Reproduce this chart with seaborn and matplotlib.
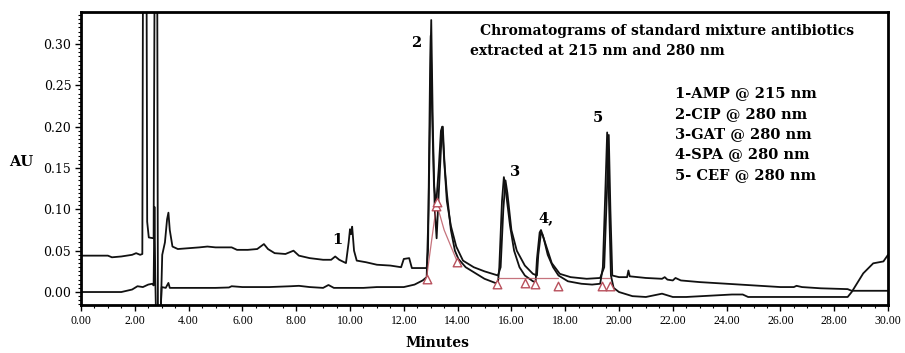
import numpy as np
import pandas as pd
import matplotlib
matplotlib.use("Agg")
import matplotlib.pyplot as plt
import seaborn as sns
from matplotlib.ticker import MultipleLocator

# trace at 215 nm (upper) - minutes / AU
t_215 = [0.0, 1.0, 1.15, 1.5, 1.9, 2.05, 2.2, 2.28, 2.32, 2.42, 2.46, 2.52, 2.7, 2.76, 2.82, 2.86,
         2.96, 3.02, 3.12, 3.2, 3.25, 3.3, 3.4, 3.6, 4.0, 4.4, 4.7, 5.0, 5.6, 5.8, 6.2, 6.55, 6.8,
         6.95, 7.2, 7.6, 7.9, 8.1, 8.5, 9.0, 9.3, 9.45, 9.6, 9.85, 9.95, 10.0, 10.04, 10.08, 10.15,
         10.25, 10.6, 11.0, 11.5, 11.9, 12.0, 12.2, 12.3, 12.85, 12.9, 12.97, 13.02, 13.08, 13.15,
         13.22, 13.3, 13.4, 13.45, 13.52, 13.6, 13.75, 13.95, 14.2, 14.6, 15.0, 15.5, 15.6, 15.7,
         15.78, 15.85, 16.0, 16.2, 16.5, 16.8, 16.95, 17.0, 17.1, 17.15, 17.3, 17.5, 17.8, 18.2,
         18.8, 19.3, 19.45, 19.55, 19.62, 19.68, 19.75, 20.0, 20.3, 20.35, 20.4, 21.0, 21.6, 21.7,
         21.8, 22.0, 22.1, 22.3, 23.0, 24.0, 25.0, 26.0, 26.5, 26.6, 26.8, 27.5, 28.5, 28.65, 30.0]
au_215 = [0.044, 0.044, 0.042, 0.043, 0.045, 0.047, 0.045, 0.046, 0.6, 0.6, 0.085, 0.066, 0.065,
          0.6, 0.6, -0.03, -0.03, 0.045, 0.06, 0.088, 0.096, 0.075, 0.055, 0.052, 0.053, 0.054,
          0.055, 0.054, 0.054, 0.051, 0.051, 0.052, 0.058, 0.052, 0.047, 0.046, 0.050, 0.044,
          0.041, 0.039, 0.039, 0.043, 0.039, 0.035, 0.06, 0.076, 0.07, 0.079, 0.05, 0.038, 0.036,
          0.033, 0.032, 0.030, 0.040, 0.041, 0.029, 0.029, 0.05, 0.25, 0.329, 0.2, 0.1, 0.065,
          0.12, 0.185, 0.2, 0.15, 0.11, 0.08, 0.055, 0.038, 0.03, 0.025, 0.02, 0.03, 0.1, 0.135,
          0.12, 0.075, 0.05, 0.032, 0.022, 0.02, 0.045, 0.072, 0.07, 0.055, 0.035, 0.022, 0.018,
          0.016, 0.017, 0.03, 0.12, 0.19, 0.1, 0.02, 0.018, 0.018, 0.026, 0.019, 0.017, 0.016,
          0.018, 0.015, 0.014, 0.017, 0.014, 0.012, 0.010, 0.008, 0.006, 0.006, 0.0075, 0.006,
          0.0045, 0.0035, 0.0015, 0.0015]

# trace at 280 nm (lower)
t_280 = [0.0, 1.5, 1.9, 2.1, 2.3, 2.5, 2.65, 2.7, 2.73, 2.76, 2.79, 2.95, 3.0, 3.15, 3.25, 3.3,
         4.0, 5.0, 5.5, 5.6, 6.0, 7.0, 7.8, 8.1, 8.5, 9.0, 9.2, 9.4, 10.5, 11.0, 12.0, 12.4, 12.7,
         12.85, 12.92, 12.97, 13.0, 13.05, 13.12, 13.2, 13.3, 13.38, 13.43, 13.5, 13.6, 13.75,
         13.9, 14.03, 14.3, 14.7, 15.0, 15.4, 15.5, 15.55, 15.65, 15.72, 15.8, 15.95, 16.1, 16.3,
         16.5, 16.8, 16.9, 16.95, 17.05, 17.1, 17.2, 17.35, 17.55, 17.75, 18.1, 18.6, 19.0, 19.3,
         19.4, 19.5, 19.56, 19.62, 19.7, 19.8, 20.0, 20.5, 21.0, 21.6, 22.0, 22.5, 24.2, 24.6,
         24.8, 28.5, 28.65, 29.08, 29.45, 29.83, 30.0]
au_280 = [0.0, 0.0, 0.003, 0.007, 0.006, 0.009, 0.010, 0.008, 0.103, 0.02, -0.03, -0.03, 0.006,
          0.005, 0.011, 0.005, 0.005, 0.005, 0.0055, 0.007, 0.006, 0.006, 0.007, 0.0075, 0.006,
          0.005, 0.0085, 0.005, 0.005, 0.006, 0.006, 0.009, 0.014, 0.018, 0.1, 0.2, 0.31, 0.22,
          0.13, 0.105, 0.15, 0.195, 0.2, 0.16, 0.12, 0.075, 0.05, 0.04, 0.03, 0.022, 0.016, 0.011,
          0.011, 0.03, 0.11, 0.139, 0.12, 0.08, 0.05, 0.03, 0.02, 0.013, 0.012, 0.04, 0.072,
          0.075, 0.065, 0.045, 0.03, 0.02, 0.013, 0.010, 0.009, 0.010, 0.03, 0.13, 0.193, 0.12,
          0.02, 0.005, 0.0, -0.005, -0.006, -0.002, -0.006, -0.006, -0.003, -0.003, -0.006,
          -0.006, 0.0, 0.0226, 0.0347, 0.037, 0.045]

# integration marks (red triangles) and peak numbers
tri_t = [12.85, 13.97, 15.48, 16.5, 16.88, 17.74, 19.36, 19.67, 13.18, 13.25]
tri_au = [0.0155, 0.036, 0.0097, 0.0113, 0.0097, 0.0073, 0.0073, 0.0073, 0.104, 0.109]
base_t = [12.85, 13.22, 13.5, 13.97]
base_au = [0.018, 0.107, 0.075, 0.038]
flat_t = [15.5, 17.75]
flat_au = [0.0175, 0.0175]
peak_lbl = ["1", "2", "3", "4,", "5"]
peak_t = [9.54, 12.45, 16.13, 17.28, 19.22]
peak_au = [0.063, 0.301, 0.145, 0.0895, 0.2105]

legend_lines = ["1-AMP @ 215 nm", "2-CIP @ 280 nm", "3-GAT @ 280 nm",
                "4-SPA @ 280 nm", "5- CEF @ 280 nm"]

df = pd.concat([
    pd.DataFrame({"Minutes": t_215, "AU": au_215, "trace": "215 nm"}),
    pd.DataFrame({"Minutes": t_280, "AU": au_280, "trace": "280 nm"}),
])

sns.set_style("ticks", {"axes.edgecolor": "black", "xtick.color": "black",
                        "ytick.color": "black", "text.color": "black"})
plt.rcParams["font.family"] = ["DejaVu Serif"]

fig = plt.figure(figsize=(9.05, 3.53), dpi=100)
ax = fig.add_axes([81 / 905, 48 / 353, 807 / 905, 293 / 353])

sns.lineplot(data=df, x="Minutes", y="AU", units="trace", estimator=None, sort=False,
             color="#111111", linewidth=1.3, ax=ax, legend=False)

red = "#b8505c"
ax.plot(base_t, base_au, color=red, lw=0.9, alpha=0.8)
ax.plot(flat_t, flat_au, color=red, lw=0.9, alpha=0.8)
ax.plot([19.36, 19.67], [0.0175, 0.0175], color=red, lw=0.9, alpha=0.8)
ax.scatter(tri_t, tri_au, marker="^", s=38, facecolors="white", edgecolors=red,
           linewidths=1.0, zorder=5)

for lbl, x, y in zip(peak_lbl, peak_t, peak_au):
    ax.text(x, y, lbl, ha="center", va="center", fontsize=10.5, fontweight="bold", color="black")

ax.text(0.494, 0.935, "Chromatograms of standard mixture antibiotics", transform=ax.transAxes,
        ha="left", va="center", fontsize=10, fontweight="bold", color="black")
ax.text(0.482, 0.868, "extracted at 215 nm and 280 nm", transform=ax.transAxes,
        ha="left", va="center", fontsize=10, fontweight="bold", color="black")
for i, line in enumerate(legend_lines):
    ax.text(0.736, 0.722 - i * 0.0695, line, transform=ax.transAxes,
            ha="left", va="center", fontsize=10.5, fontweight="bold", color="black")

ax.set_xlim(0, 30)
ax.set_ylim(-0.0157, 0.3387)
ax.xaxis.set_major_locator(MultipleLocator(2))
ax.xaxis.set_minor_locator(MultipleLocator(0.5))
ax.yaxis.set_major_locator(MultipleLocator(0.05))
ax.yaxis.set_minor_locator(MultipleLocator(0.005))
ax.set_xticklabels([f"{v:.2f}" for v in ax.get_xticks()], family="Liberation Serif", fontsize=8.5,
                   color="black")
ax.set_yticklabels([f"{v:.2f}" for v in ax.get_yticks()], fontsize=9, color="black")
ax.set_xlim(0, 30)
ax.set_ylim(-0.0157, 0.3387)
ax.tick_params(axis="both", which="major", length=4, width=1, pad=3, colors="black")
ax.tick_params(axis="both", which="minor", length=2, width=0.8, colors="black")
for s in ax.spines.values():
    s.set_visible(True)
    s.set_linewidth(2)
    s.set_color("black")
ax.set_xlabel("")
ax.set_ylabel("")
fig.text(21 / 905, 1 - 162 / 353, "AU", ha="center", va="center", fontsize=10.5,
         fontweight="bold", color="black")
fig.text(437 / 905, 1 - 343 / 353, "Minutes", ha="center", va="center", fontsize=10,
         fontweight="bold", color="black")

fig.savefig("out.png", dpi=100)
